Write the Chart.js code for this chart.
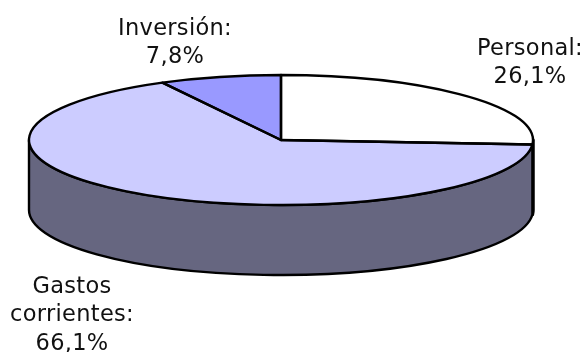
<!DOCTYPE html>
<html lang="es">
  <head>
    <meta charset="UTF-8" />
    <title>Gastos</title>
    <script src="https://cdn.jsdelivr.net/npm/chart.js@4"></script>
    <style>
      body { margin: 0; background: #fff; }
      #wrap { width: 585px; height: 352px; }
    </style>
  </head>
  <body>
    <div id="wrap"><canvas id="myChart"></canvas></div>
    <script>
      const categories = ["Personal", "Gastos corrientes", "Inversión"];
      const values = [26.1, 66.1, 7.8];
      const topColors = ["#ffffff", "#ccccff", "#9999ff"];
      const sideColors = ["#000000", "#666680", "#4d4d80"];

      // each line of the labels, and where it sits
      const labelLines = [
        ["Personal:", values[0].toString().replace(".", ",") + "%"],
        ["Gastos", "corrientes:", values[1].toString().replace(".", ",") + "%"],
        ["Inversión:", values[2].toString().replace(".", ",") + "%"],
      ];
      const labelPos = [[530, 49], [72, 287], [175, 29]];

      const cx = 281, cy = 140, rx = 252, ry = 65, depth = 70;

      // squashes the round pie into an ellipse and adds the side wall
      const tilt = {
        id: "tilt",
        beforeDatasetsDraw(chart) {
          const ctx = chart.ctx;
          const arcs = chart.getDatasetMeta(0).data;
          ctx.save();
          ctx.strokeStyle = "#000";
          ctx.lineJoin = "round";
          arcs.forEach((a, i) => {
            const s = Math.max(a.startAngle, 0);
            const e = Math.min(a.endAngle, Math.PI);
            if (e <= s) return;
            ctx.lineWidth = i == 0 ? 3.5 : 2.4;
            ctx.beginPath();
            ctx.ellipse(cx, cy + depth, rx, ry, 0, s, e);
            ctx.ellipse(cx, cy, rx, ry, 0, e, s, true);
            ctx.closePath();
            ctx.fillStyle = sideColors[i];
            ctx.fill();
            ctx.stroke();
          });
          ctx.restore();

          const r = arcs[0].outerRadius;
          ctx.save();
          ctx.translate(cx, cy);
          ctx.scale(rx / r, ry / r);
          ctx.translate(-arcs[0].x, -arcs[0].y);
        },
        afterDatasetsDraw(chart) {
          const ctx = chart.ctx;
          ctx.restore();
          ctx.save();
          ctx.lineWidth = 2.4;
          ctx.strokeStyle = "#000";
          ctx.lineJoin = "round";
          chart.getDatasetMeta(0).data.forEach((a) => {
            ctx.beginPath();
            ctx.moveTo(cx, cy);
            ctx.ellipse(cx, cy, rx, ry, 0, a.startAngle, a.endAngle);
            ctx.closePath();
            ctx.stroke();
          });
          ctx.font = "22.5px 'DejaVu Sans'";
          ctx.letterSpacing = "0.3px";
          ctx.fillStyle = "#111";
          ctx.textAlign = "center";
          ctx.textBaseline = "middle";
          labelLines.forEach((lines, i) => {
            lines.forEach((t, j) => {
              ctx.fillText(t, labelPos[i][0], labelPos[i][1] + j * 28.5);
            });
          });
          ctx.restore();
        },
      };

      new Chart(document.getElementById("myChart"), {
        type: "pie",
        data: {
          labels: categories,
          datasets: [
            {
              data: values,
              backgroundColor: topColors,
              borderWidth: 0,
            },
          ],
        },
        options: {
          responsive: true,
          maintainAspectRatio: false,
          animation: false,
          events: [],
          plugins: {
            legend: { display: false },
            tooltip: { enabled: false },
          },
        },
        plugins: [tilt],
      });
    </script>
  </body>
</html>
